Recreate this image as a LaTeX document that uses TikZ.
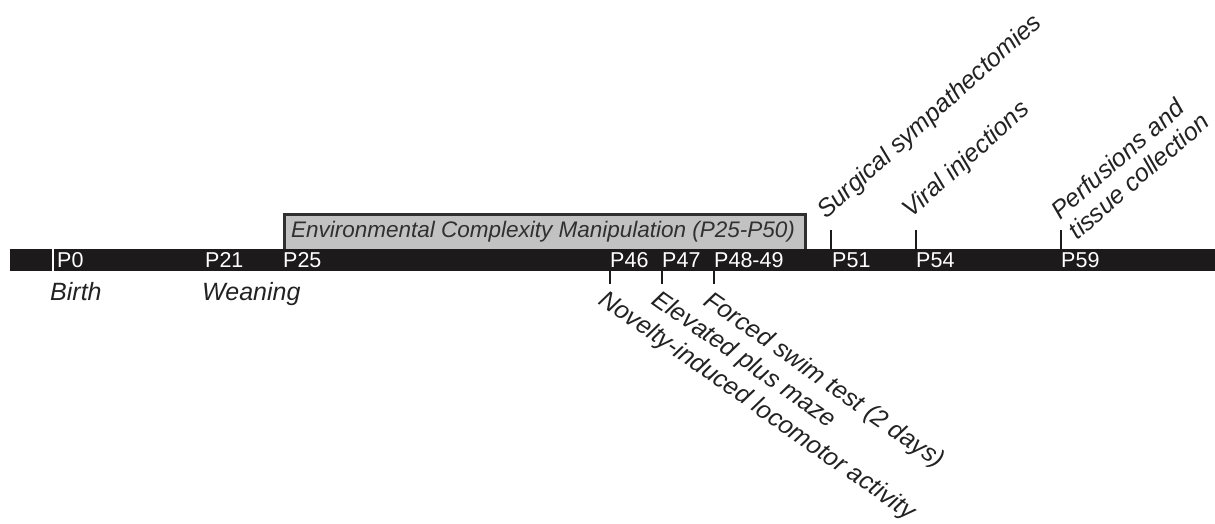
\documentclass[tikz,border=0pt]{standalone}
\usepackage{fontspec}
\setmainfont{Liberation Sans}
\definecolor{barcol}{HTML}{1C1A1B}
\definecolor{boxfill}{HTML}{C2C2C2}
\definecolor{boxline}{HTML}{303030}
\definecolor{txt}{HTML}{222222}
\begin{document}
\begin{tikzpicture}[x=1pt,y=-1pt,
  daylab/.style={anchor=base west,inner sep=0pt,text=white,font=\fontsize{21.5}{24}\selectfont},
  evlab/.style={inner sep=0pt,text=txt,font=\fontsize{25}{27}\selectfont\itshape},
  tick/.style={line width=2pt,draw=barcol}]
\useasboundingbox (0,0) rectangle (1215,523);
% manipulation box
\node[draw=boxline,line width=3pt,fill=boxfill,minimum width=521pt,minimum height=37pt,anchor=north west,inner sep=0pt] (ecm) at (283,213) {};
\node[text=boxline,font=\fontsize{22.5}{26}\selectfont\itshape] (ecmtxt) at (543,231.5) {Environmental Complexity Manipulation (P25-P50)};
% timeline bar
\node[fill=barcol,minimum width=1205pt,minimum height=22pt,anchor=north west,inner sep=0pt] (bar) at (10,249) {};
\draw[white,line width=1.5pt] (bar.north west) ++(43,0) coordinate (w1) -- ++(0,22) coordinate (w2);
% ticks
\foreach \n/\x in {a/610,b/662,c/714}{
  \coordinate (t\n1) at (\x,271); \coordinate (t\n2) at (\x,284);
  \draw[tick] (t\n1) -- (t\n2);}
\foreach \n/\x in {d/831,e/916,f/1061}{
  \coordinate (t\n1) at (\x,249); \coordinate (t\n2) at (\x,230);
  \draw[tick] (t\n1) -- (t\n2);}
% day labels
\node[daylab] (p0) at (57,267) {P0};
\node[daylab] (p21) at (205,267) {P21};
\node[daylab] (p25) at (283,267) {P25};
\node[daylab] (p46) at (610,267) {P46};
\node[daylab] (p47) at (662,267) {P47};
\node[daylab] (p48) at (714,267) {P48-49};
\node[daylab] (p51) at (832,267) {P51};
\node[daylab] (p54) at (916,267) {P54};
\node[daylab] (p59) at (1061,267) {P59};
% events below
\node[evlab,anchor=base west] (birth) at (50,300) {Birth};
\node[evlab,anchor=base west] (wean) at (202,300) {Weaning};
\node[evlab,anchor=north west,rotate=-35] (nov) at (608,288) {Novelty-induced locomotor activity};
\node[evlab,anchor=north west,rotate=-35] (epm) at (661,288) {Elevated plus maze};
\node[evlab,anchor=north west,rotate=-35] (fst) at (713,289) {Forced swim test (2 days)};
% events above
\node[evlab,anchor=base west,rotate=42] (surg) at (826,220) {Surgical sympathectomies};
\node[evlab,anchor=base west,rotate=42] (viral) at (911,219) {Viral injections};
\node[evlab,anchor=south west,rotate=41,align=left] (perf) at (1078,241) {Perfusions and\\tissue collection};
\end{tikzpicture}
\end{document}
